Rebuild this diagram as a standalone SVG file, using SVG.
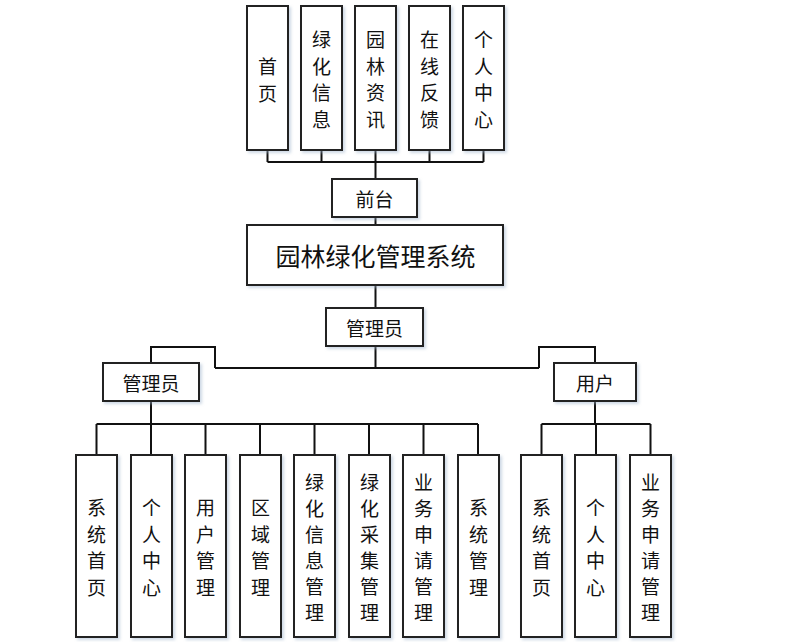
<svg xmlns="http://www.w3.org/2000/svg" width="812" height="642" viewBox="0 0 812 642">
<defs>
<filter id="sh" x="-20%" y="-20%" width="140%" height="140%">
<feDropShadow dx="2" dy="2" stdDeviation="1.5" flood-color="#9fb3cc" flood-opacity="0.5"/>
</filter>
</defs>
<style>
.box{fill:#ffffff;stroke:#222;stroke-width:2;filter:url(#sh)}
.t{font-family:"Noto Sans CJK SC","Noto Sans",sans-serif;font-size:19px;fill:#111;text-anchor:middle;dominant-baseline:central}
.big{font-size:25px}
.ln{fill:none;stroke:#111;stroke-width:2}
</style>
<rect width="812" height="642" fill="#ffffff"/>
<g id="connectors" class="ln">
<path d="M267.5 150V162M321.5 150V162M375.5 150V162M429.5 150V162M483.5 150V162M267.5 162H483.5M375.5 162V179"/>
<path d="M375.5 217V225"/>
<path d="M375.5 285V308"/>
<path d="M375.5 346V368M215 368H539M215 368V347H151V363M539 368V347H595V363"/>
<path d="M151 401V424M96.5 424H478M96.5 424V455M151 424V455M205.5 424V455M260 424V455M314.5 424V455M369 424V455M423.5 424V455M478 424V455"/>
<path d="M595 401V424M541.5 424H650.5M541.5 424V455M596 424V455M650.5 424V455"/>
</g>
<g id="n-home"><rect class="box" x="247" y="6" width="41" height="144"/><text class="t" x="267.5"><tspan x="267.5" y="64.5">首</tspan><tspan x="267.5" y="91.5">页</tspan></text></g>
<g id="n-green"><rect class="box" x="301" y="6" width="41" height="144"/><text class="t"><tspan x="321.5" y="38">绿</tspan><tspan x="321.5" y="64.5">化</tspan><tspan x="321.5" y="91">信</tspan><tspan x="321.5" y="117.5">息</tspan></text></g>
<g id="n-news"><rect class="box" x="355" y="6" width="41" height="144"/><text class="t"><tspan x="375.5" y="38">园</tspan><tspan x="375.5" y="64.5">林</tspan><tspan x="375.5" y="91">资</tspan><tspan x="375.5" y="117.5">讯</tspan></text></g>
<g id="n-feedback"><rect class="box" x="409" y="6" width="41" height="144"/><text class="t"><tspan x="429.5" y="38">在</tspan><tspan x="429.5" y="64.5">线</tspan><tspan x="429.5" y="91">反</tspan><tspan x="429.5" y="117.5">馈</tspan></text></g>
<g id="n-personal"><rect class="box" x="463" y="6" width="41" height="144"/><text class="t"><tspan x="483.5" y="38">个</tspan><tspan x="483.5" y="64.5">人</tspan><tspan x="483.5" y="91">中</tspan><tspan x="483.5" y="117.5">心</tspan></text></g>
<g id="n-front"><rect class="box" x="332" y="179" width="85" height="38"/><text class="t" x="374.5" y="198">前台</text></g>
<g id="n-system"><rect class="box" x="247" y="225" width="256" height="60"/><text class="t big" x="375.5" y="255">园林绿化管理系统</text></g>
<g id="n-admin-top"><rect class="box" x="326" y="308" width="97" height="38"/><text class="t" x="374.5" y="327">管理员</text></g>
<g id="n-admin"><rect class="box" x="103" y="363" width="96" height="38"/><text class="t" x="151" y="382">管理员</text></g>
<g id="n-user"><rect class="box" x="554" y="363" width="82" height="38"/><text class="t" x="595" y="382">用户</text></g>
<g id="a1"><rect class="box" x="76" y="455" width="41" height="182"/><text class="t"><tspan x="96.5" y="506">系</tspan><tspan x="96.5" y="532.5">统</tspan><tspan x="96.5" y="559">首</tspan><tspan x="96.5" y="585.5">页</tspan></text></g>
<g id="a2"><rect class="box" x="131" y="455" width="41" height="182"/><text class="t"><tspan x="151.5" y="506">个</tspan><tspan x="151.5" y="532.5">人</tspan><tspan x="151.5" y="559">中</tspan><tspan x="151.5" y="585.5">心</tspan></text></g>
<g id="a3"><rect class="box" x="185" y="455" width="41" height="182"/><text class="t"><tspan x="205.5" y="506">用</tspan><tspan x="205.5" y="532.5">户</tspan><tspan x="205.5" y="559">管</tspan><tspan x="205.5" y="585.5">理</tspan></text></g>
<g id="a4"><rect class="box" x="240" y="455" width="41" height="182"/><text class="t"><tspan x="260.5" y="506">区</tspan><tspan x="260.5" y="532.5">域</tspan><tspan x="260.5" y="559">管</tspan><tspan x="260.5" y="585.5">理</tspan></text></g>
<g id="a5"><rect class="box" x="294" y="455" width="41" height="182"/><text class="t"><tspan x="314.5" y="481">绿</tspan><tspan x="314.5" y="507">化</tspan><tspan x="314.5" y="533">信</tspan><tspan x="314.5" y="559">息</tspan><tspan x="314.5" y="585">管</tspan><tspan x="314.5" y="611">理</tspan></text></g>
<g id="a6"><rect class="box" x="349" y="455" width="41" height="182"/><text class="t"><tspan x="369.5" y="481">绿</tspan><tspan x="369.5" y="507">化</tspan><tspan x="369.5" y="533">采</tspan><tspan x="369.5" y="559">集</tspan><tspan x="369.5" y="585">管</tspan><tspan x="369.5" y="611">理</tspan></text></g>
<g id="a7"><rect class="box" x="403" y="455" width="41" height="182"/><text class="t"><tspan x="423.5" y="481">业</tspan><tspan x="423.5" y="507">务</tspan><tspan x="423.5" y="533">申</tspan><tspan x="423.5" y="559">请</tspan><tspan x="423.5" y="585">管</tspan><tspan x="423.5" y="611">理</tspan></text></g>
<g id="a8"><rect class="box" x="458" y="455" width="41" height="182"/><text class="t"><tspan x="478.5" y="506">系</tspan><tspan x="478.5" y="532.5">统</tspan><tspan x="478.5" y="559">管</tspan><tspan x="478.5" y="585.5">理</tspan></text></g>
<g id="u1"><rect class="box" x="521" y="455" width="41" height="182"/><text class="t"><tspan x="541.5" y="506">系</tspan><tspan x="541.5" y="532.5">统</tspan><tspan x="541.5" y="559">首</tspan><tspan x="541.5" y="585.5">页</tspan></text></g>
<g id="u2"><rect class="box" x="575" y="455" width="41" height="182"/><text class="t"><tspan x="595.5" y="506">个</tspan><tspan x="595.5" y="532.5">人</tspan><tspan x="595.5" y="559">中</tspan><tspan x="595.5" y="585.5">心</tspan></text></g>
<g id="u3"><rect class="box" x="630" y="455" width="41" height="182"/><text class="t"><tspan x="650.5" y="481">业</tspan><tspan x="650.5" y="507">务</tspan><tspan x="650.5" y="533">申</tspan><tspan x="650.5" y="559">请</tspan><tspan x="650.5" y="585">管</tspan><tspan x="650.5" y="611">理</tspan></text></g>
</svg>
